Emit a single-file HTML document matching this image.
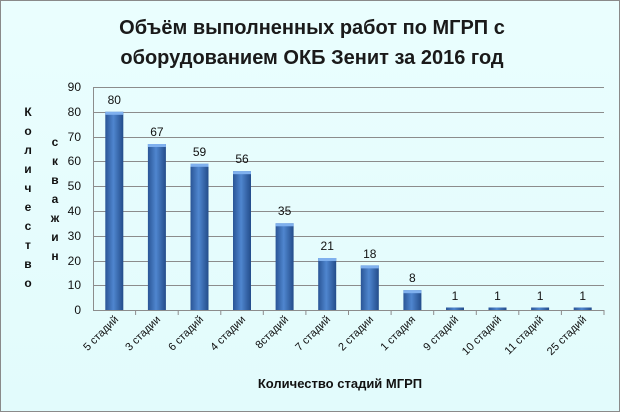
<!DOCTYPE html>
<html><head><meta charset="utf-8"><style>
body{margin:0;background:#fff}
svg{display:block;font-family:"Liberation Sans","DejaVu Sans",sans-serif}
</style></head><body>
<svg width="620" height="412" viewBox="0 0 620 412">
<defs>
<linearGradient id="g" x1="0" x2="1" y1="0" y2="0">
<stop offset="0" stop-color="#2a5596"/><stop offset="0.45" stop-color="#4f86cf"/><stop offset="1" stop-color="#234c8a"/>
</linearGradient>
<linearGradient id="bg" x1="0" x2="0" y1="0" y2="1">
<stop offset="0" stop-color="#eafefe"/><stop offset="1" stop-color="#e2fbfc"/>
</linearGradient>
</defs>
<rect x="0.5" y="0.5" width="619" height="411" fill="url(#bg)" stroke="#8a8a8a"/>
<text x="312" y="34" text-anchor="middle" font-size="20" font-weight="bold" fill="#1a1a1a">Объём выполненных работ по МГРП с</text>
<text x="312" y="64" text-anchor="middle" font-size="20" font-weight="bold" fill="#1a1a1a">оборудованием ОКБ Зенит за 2016 год</text>
<g stroke="#8c8c8c" stroke-width="1">
<line x1="93" x2="604" y1="87.5" y2="87.5"/><line x1="93" x2="604" y1="112.5" y2="112.5"/>
<line x1="93" x2="604" y1="137.5" y2="137.5"/><line x1="93" x2="604" y1="161.5" y2="161.5"/>
<line x1="93" x2="604" y1="186.5" y2="186.5"/><line x1="93" x2="604" y1="211.5" y2="211.5"/>
<line x1="93" x2="604" y1="236.5" y2="236.5"/><line x1="93" x2="604" y1="261.5" y2="261.5"/>
<line x1="93" x2="604" y1="285.5" y2="285.5"/><line x1="93" x2="604" y1="310.5" y2="310.5"/>
<line x1="93.5" x2="93.5" y1="87" y2="310"/>
<line x1="135.6" x2="135.6" y1="310" y2="315"/><line x1="178.2" x2="178.2" y1="310" y2="315"/>
<line x1="220.8" x2="220.8" y1="310" y2="315"/><line x1="263.3" x2="263.3" y1="310" y2="315"/>
<line x1="305.9" x2="305.9" y1="310" y2="315"/><line x1="348.5" x2="348.5" y1="310" y2="315"/>
<line x1="391.1" x2="391.1" y1="310" y2="315"/><line x1="433.7" x2="433.7" y1="310" y2="315"/>
<line x1="476.3" x2="476.3" y1="310" y2="315"/><line x1="518.8" x2="518.8" y1="310" y2="315"/>
<line x1="561.4" x2="561.4" y1="310" y2="315"/><line x1="604" x2="604" y1="310" y2="315"/>
</g>
<g font-size="12" fill="#111" text-anchor="end">
<text x="81" y="314">0</text><text x="81" y="289">10</text><text x="81" y="265">20</text>
<text x="81" y="240">30</text><text x="81" y="215">40</text><text x="81" y="190">50</text>
<text x="81" y="165">60</text><text x="81" y="141">70</text><text x="81" y="116">80</text><text x="81" y="91">90</text>
</g>
<g font-size="12" font-weight="bold" fill="#111" text-anchor="middle">
<text x="28" y="116">К</text><text x="28" y="135">о</text><text x="28" y="154">л</text><text x="28" y="173">и</text><text x="28" y="192">ч</text><text x="28" y="211">е</text><text x="28" y="230">с</text><text x="28" y="249">т</text><text x="28" y="268">в</text><text x="28" y="287">о</text>
<text x="55" y="146">с</text><text x="55" y="165">к</text><text x="55" y="184">в</text><text x="55" y="203">а</text><text x="55" y="222">ж</text><text x="55" y="241">и</text><text x="55" y="260">н</text>
</g>
<g fill="url(#g)">
<rect x="105.3" y="111.8" width="18" height="198.2"/>
<rect x="147.9" y="144.0" width="18" height="166"/>
<rect x="190.5" y="163.8" width="18" height="146.2"/>
<rect x="233.0" y="171.2" width="18" height="138.8"/>
<rect x="275.6" y="223.3" width="18" height="86.7"/>
<rect x="318.2" y="258.0" width="18" height="52"/>
<rect x="360.8" y="265.4" width="18" height="44.6"/>
<rect x="403.4" y="290.2" width="18" height="19.8"/>
<rect x="446.0" y="307.5" width="18" height="2.5"/>
<rect x="488.5" y="307.5" width="18" height="2.5"/>
<rect x="531.1" y="307.5" width="18" height="2.5"/>
<rect x="573.7" y="307.5" width="18" height="2.5"/>
</g>
<g fill="#7fb0ee">
<rect x="105.3" y="111.8" width="18" height="3"/>
<rect x="147.9" y="144.0" width="18" height="3"/>
<rect x="190.5" y="163.8" width="18" height="3"/>
<rect x="233.0" y="171.2" width="18" height="3"/>
<rect x="275.6" y="223.3" width="18" height="3"/>
<rect x="318.2" y="258.0" width="18" height="3"/>
<rect x="360.8" y="265.4" width="18" height="3"/>
<rect x="403.4" y="290.2" width="18" height="3"/>
</g>
<g font-size="12" fill="#111" text-anchor="middle">
<text x="114.3" y="104">80</text><text x="156.9" y="136">67</text><text x="199.5" y="156">59</text>
<text x="242.0" y="163">56</text><text x="284.6" y="215">35</text><text x="327.2" y="250">21</text>
<text x="369.8" y="258">18</text><text x="412.4" y="282">8</text><text x="455.0" y="300">1</text>
<text x="497.5" y="300">1</text><text x="540.1" y="300">1</text><text x="582.7" y="300">1</text>
</g>
<g font-size="11" fill="#111" text-anchor="end">
<text transform="translate(119,320) rotate(-45)">5 стадий</text>
<text transform="translate(161,320) rotate(-45)">3 стадии</text>
<text transform="translate(204,320) rotate(-45)">6 стадий</text>
<text transform="translate(246,320) rotate(-45)">4 стадии</text>
<text transform="translate(289,320) rotate(-45)">8стадий</text>
<text transform="translate(331,320) rotate(-45)">7 стадий</text>
<text transform="translate(374,320) rotate(-45)">2 стадии</text>
<text transform="translate(416,320) rotate(-45)">1 стадия</text>
<text transform="translate(459,320) rotate(-45)">9 стадий</text>
<text transform="translate(502,320) rotate(-45)">10 стадий</text>
<text transform="translate(544,320) rotate(-45)">11 стадий</text>
<text transform="translate(587,320) rotate(-45)">25 стадий</text>
</g>
<text x="340" y="388" text-anchor="middle" font-size="13" font-weight="bold" fill="#111">Количество стадий МГРП</text>
</svg>
</body></html>
